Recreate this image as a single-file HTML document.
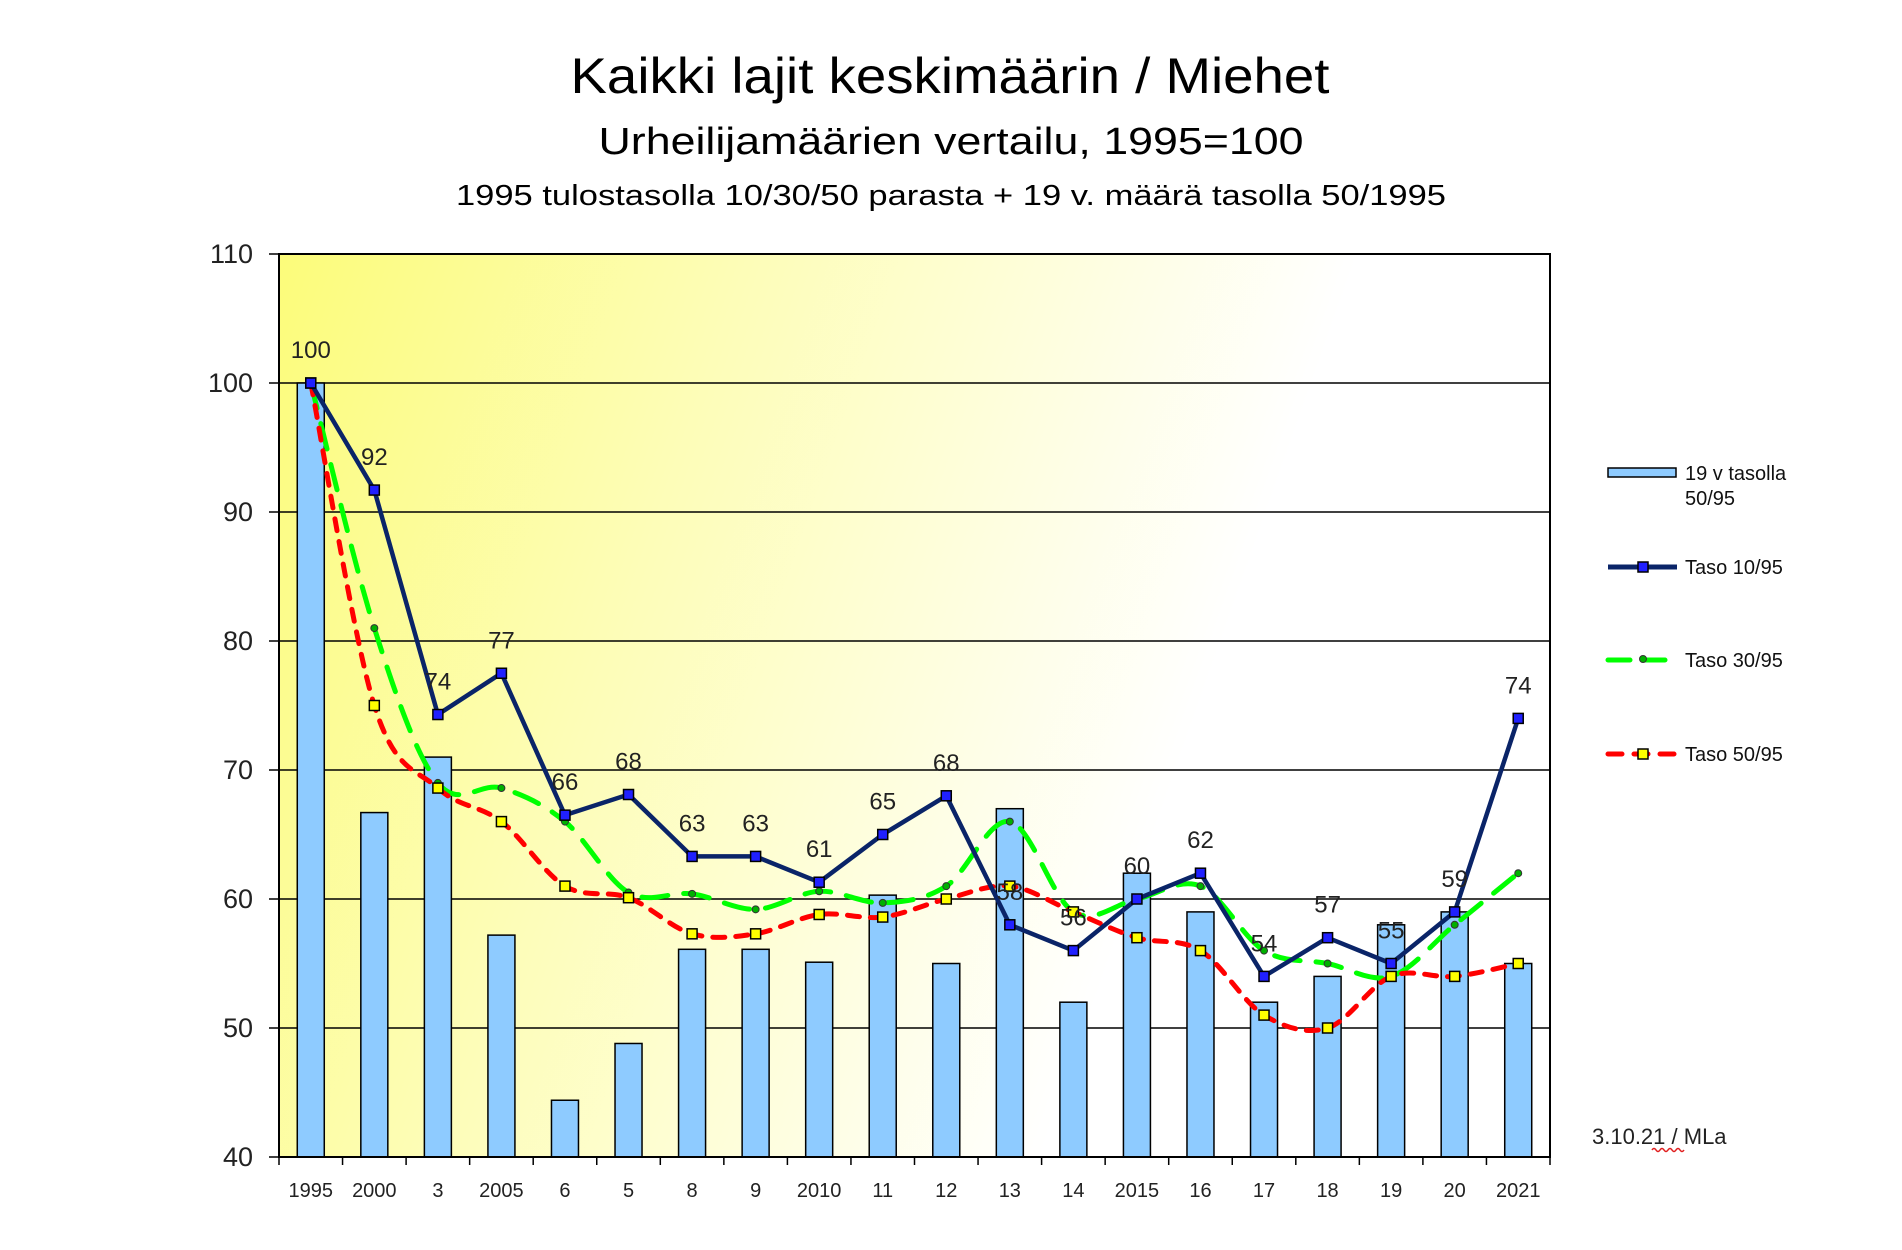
<!DOCTYPE html>
<html><head><meta charset="utf-8"><style>
html,body{margin:0;padding:0;background:#fff}
svg{display:block}
text{font-family:"Liberation Sans",sans-serif}
</style></head><body>
<svg id="s" width="1902" height="1250" xmlns="http://www.w3.org/2000/svg">
<defs>
<linearGradient id="bg" x1="0" y1="0" x2="1" y2="0.25">
<stop offset="0" stop-color="#fcfc7a"/><stop offset="0.35" stop-color="#fdfdb8"/><stop offset="0.8" stop-color="#ffffff"/>
</linearGradient>
</defs>
<text x="950" y="93" text-anchor="middle" font-size="50" textLength="759" lengthAdjust="spacingAndGlyphs" fill="#000">Kaikki lajit keskimäärin / Miehet</text>
<text x="951" y="154" text-anchor="middle" font-size="38" textLength="705" lengthAdjust="spacingAndGlyphs" fill="#000">Urheilijamäärien vertailu, 1995=100</text>
<text x="951" y="205" text-anchor="middle" font-size="29" textLength="990" lengthAdjust="spacingAndGlyphs" fill="#000">1995 tulostasolla 10/30/50 parasta + 19 v. määrä tasolla 50/1995</text>
<rect x="279" y="254" width="1271" height="903" fill="url(#bg)"/>
<g id="plot"></g>
<text x="1592" y="1144" font-size="22" fill="#222">3.10.21 / MLa</text>
<path d="M1652 1150 q2 -3 4 0 t4 0 t4 0 t4 0 t4 0 t4 0 t4 0 t4 0" stroke="#e02020" fill="none" stroke-width="1.5"/>
<rect x="1608" y="468" width="68" height="9" fill="#8ecbff" stroke="#000" stroke-width="1.5"/>
<text x="1685" y="480" font-size="20" fill="#111">19 v tasolla</text>
<text x="1685" y="505" font-size="20" fill="#111">50/95</text>
<line x1="1608" y1="567" x2="1677" y2="567" stroke="#0a2468" stroke-width="5"/>
<rect x="1638" y="562" width="10" height="10" fill="#2020ff" stroke="#000" stroke-width="1.5"/>
<text x="1685" y="574" font-size="20" fill="#111">Taso 10/95</text>
<line x1="1608" y1="660" x2="1677" y2="660" stroke="#00ff00" stroke-width="5" stroke-dasharray="22,13" stroke-linecap="round"/>
<circle cx="1643" cy="659" r="3.5" fill="#00b000" stroke="#333" stroke-width="1"/>
<text x="1685" y="667" font-size="20" fill="#111">Taso 30/95</text>
<line x1="1608" y1="754" x2="1677" y2="754" stroke="#ff0000" stroke-width="5" stroke-dasharray="14,12" stroke-linecap="round"/>
<rect x="1638" y="749" width="10" height="10" fill="#ffff00" stroke="#000" stroke-width="1.5"/>
<text x="1685" y="761" font-size="20" fill="#111">Taso 50/95</text>
</svg>
<script>
var L=279,R=1550,T=254,B=1157,n=20,w=(R-L)/n;
function X(i){return L+w*(i+0.5)}
function Y(v){return B-(v-40)*12.9}
var bars=[100,66.7,71,57.2,44.4,48.8,56.1,56.1,55.1,60.3,55,67,52,62,59,52,54,58,59,55];
var t10=[100,91.7,74.3,77.5,66.5,68.1,63.3,63.3,61.3,65,68,58,56,60,62,54,57,55,59,74];
var lab=[100,92,74,77,66,68,63,63,61,65,68,58,56,60,62,54,57,55,59,74];
var t30=[100,81,69,68.6,66,60.5,60.4,59.2,60.6,59.7,61,66,59,60,61,56,55,54,58,62];
var t50=[100,75,68.6,66,61,60.1,57.3,57.3,58.8,58.6,60,61,59,57,56,51,50,54,54,55];
var cats=["1995","2000","3","2005","6","5","8","9","2010","11","12","13","14","2015","16","17","18","19","20","2021"];
var s="";
for(var i=0;i<=7;i++){var y=Y(40+i*10);
 if(i>0&&i<7)s+='<line x1="'+L+'" y1="'+y+'" x2="'+R+'" y2="'+y+'" stroke="#000" stroke-width="1.5"/>';
 s+='<line x1="'+(L-10)+'" y1="'+y+'" x2="'+L+'" y2="'+y+'" stroke="#000" stroke-width="1.5"/>';
 s+='<text x="'+(L-26)+'" y="'+(y+9)+'" font-size="27" text-anchor="end" fill="#222">'+(40+i*10)+'</text>';}
for(var i=0;i<n;i++){var x=X(i);
 s+='<rect x="'+(x-13.5)+'" y="'+Y(bars[i])+'" width="27" height="'+(B-Y(bars[i]))+'" fill="#8ecbff" stroke="#000" stroke-width="1.5"/>';
 s+='<text x="'+x+'" y="1197" font-size="20" text-anchor="middle" fill="#222">'+cats[i]+'</text>';}
for(var i=0;i<=n;i++){var x=L+w*i;s+='<line x1="'+x+'" y1="'+B+'" x2="'+x+'" y2="'+(B+8)+'" stroke="#000" stroke-width="1.5"/>';}
s+='<rect x="'+L+'" y="'+T+'" width="'+(R-L)+'" height="'+(B-T)+'" fill="none" stroke="#000" stroke-width="2"/>';
function smooth(d){var p=d.map(function(v,i){return [X(i),Y(v)]});var r="M"+p[0][0]+" "+p[0][1];
 for(var i=0;i<p.length-1;i++){var p0=p[i-1]||p[i],p1=p[i],p2=p[i+1],p3=p[i+2]||p2;var k=1/6;
 r+=" C"+(p1[0]+(p2[0]-p0[0])*k)+" "+(p1[1]+(p2[1]-p0[1])*k)+" "+(p2[0]-(p3[0]-p1[0])*k)+" "+(p2[1]-(p3[1]-p1[1])*k)+" "+p2[0]+" "+p2[1];}return r;}
s+='<path d="'+smooth(t30)+'" fill="none" stroke="#00ff00" stroke-width="5" stroke-dasharray="26,16" stroke-linecap="round"/>';
s+='<path d="'+smooth(t50)+'" fill="none" stroke="#ff0000" stroke-width="5" stroke-dasharray="12,11" stroke-linecap="round"/>';
s+='<polyline points="'+t10.map(function(v,i){return X(i)+","+Y(v)}).join(" ")+'" fill="none" stroke="#0a2468" stroke-width="4.5"/>';
for(var i=0;i<n;i++){
 s+='<circle cx="'+X(i)+'" cy="'+Y(t30[i])+'" r="3.5" fill="#00b000" stroke="#333" stroke-width="1"/>';
 s+='<rect x="'+(X(i)-5)+'" y="'+(Y(t50[i])-5)+'" width="10" height="10" fill="#ffff00" stroke="#000" stroke-width="1.5"/>';
 s+='<rect x="'+(X(i)-5)+'" y="'+(Y(t10[i])-5)+'" width="10" height="10" fill="#2020ff" stroke="#000" stroke-width="1.5"/>';
 s+='<text x="'+X(i)+'" y="'+(Y(t10[i])-25)+'" font-size="24" text-anchor="middle" fill="#222">'+lab[i]+'</text>';}
document.getElementById("plot").innerHTML=s;
</script>
</body></html>
